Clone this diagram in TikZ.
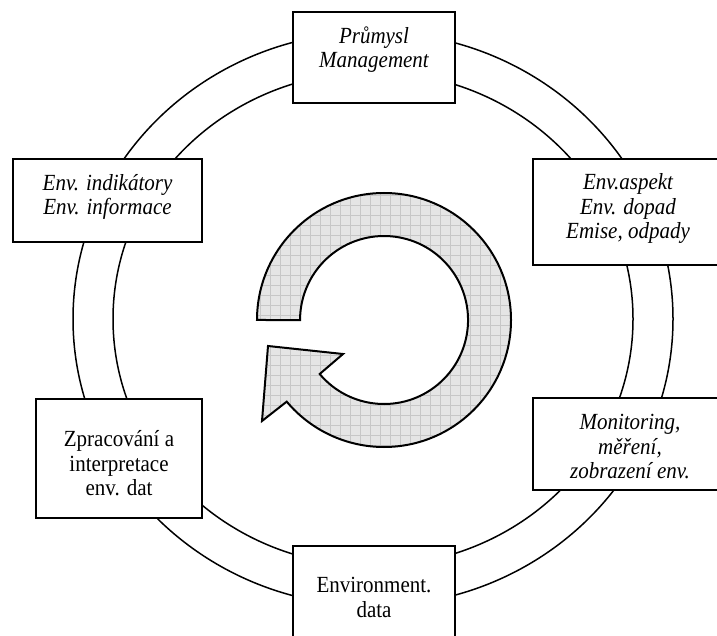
\documentclass[tikz,border=0pt]{standalone}
\usepackage{fontspec}
\setmainfont{Liberation Serif}
\begin{document}
\begin{tikzpicture}[x=1pt,y=1pt,
  ring/.style={line width=1.5pt},
  box/.style={draw, fill=white, line width=2pt, inner sep=0pt},
  lbl/.style={font=\fontsize{21}{22.3}\selectfont, align=center, inner sep=0pt,
    yscale=1.1, transform shape,
    execute at begin node=\strut, execute at end node=\strut},
  ilbl/.style={lbl, font=\fontsize{21}{22.3}\selectfont\itshape},
  cyclearrow/.style={draw, line width=2pt, fill=black!10, line join=miter,
    path picture={\draw[black!22, line width=0.6pt, step=10]
      (path picture bounding box.south west) grid (path picture bounding box.north east);}}]
\clip (0,0) rectangle (717,635);
% rings
\draw[ring] (373,316) ellipse [x radius=300, y radius=287];
\draw[ring] (373,316) ellipse [x radius=260, y radius=247];
% boxes
\node[box, minimum width=162pt, minimum height=91pt]  (b1) at (374,577.5) {};
\node[box, minimum width=190pt, minimum height=106pt] (b2) at (628,423) {};
\node[box, minimum width=190pt, minimum height=92pt]  (b3) at (628,191) {};
\node[box, minimum width=166pt, minimum height=119pt] (b5) at (119,176.5) {};
\node[box, minimum width=189pt, minimum height=83pt]  (b4) at (107.5,434.5) {};
\node[box, minimum width=162pt, minimum height=91pt]  (b6) at (374,43.5) {};
% central cycle arrow
\path[cyclearrow] (257,315) arc[start angle=180, end angle=-140, radius=127]
  -- (262,214) -- (268,289) -- (343,281) -- (319.7,261)
  arc[start angle=-140, end angle=180, radius=84] -- cycle;
% labels
\node[ilbl] (t1) at (374,584) {Průmysl\\Management};
\node[ilbl] (t2) at (628,425) {Env.aspekt\\Env. dopad\\Emise, odpady};
\node[ilbl] (t3) at (630,184.5) {Monitoring,\\měření,\\zobrazení env.};
\node[ilbl] (t4) at (107.5,437) {Env. indikátory\\Env. informace};
\node[lbl]  (t5) at (119,168) {Zpracování a\\interpretace\\env. dat};
\node[lbl]  (t6) at (374,34) {Environment.\\data};
\end{tikzpicture}
\end{document}
